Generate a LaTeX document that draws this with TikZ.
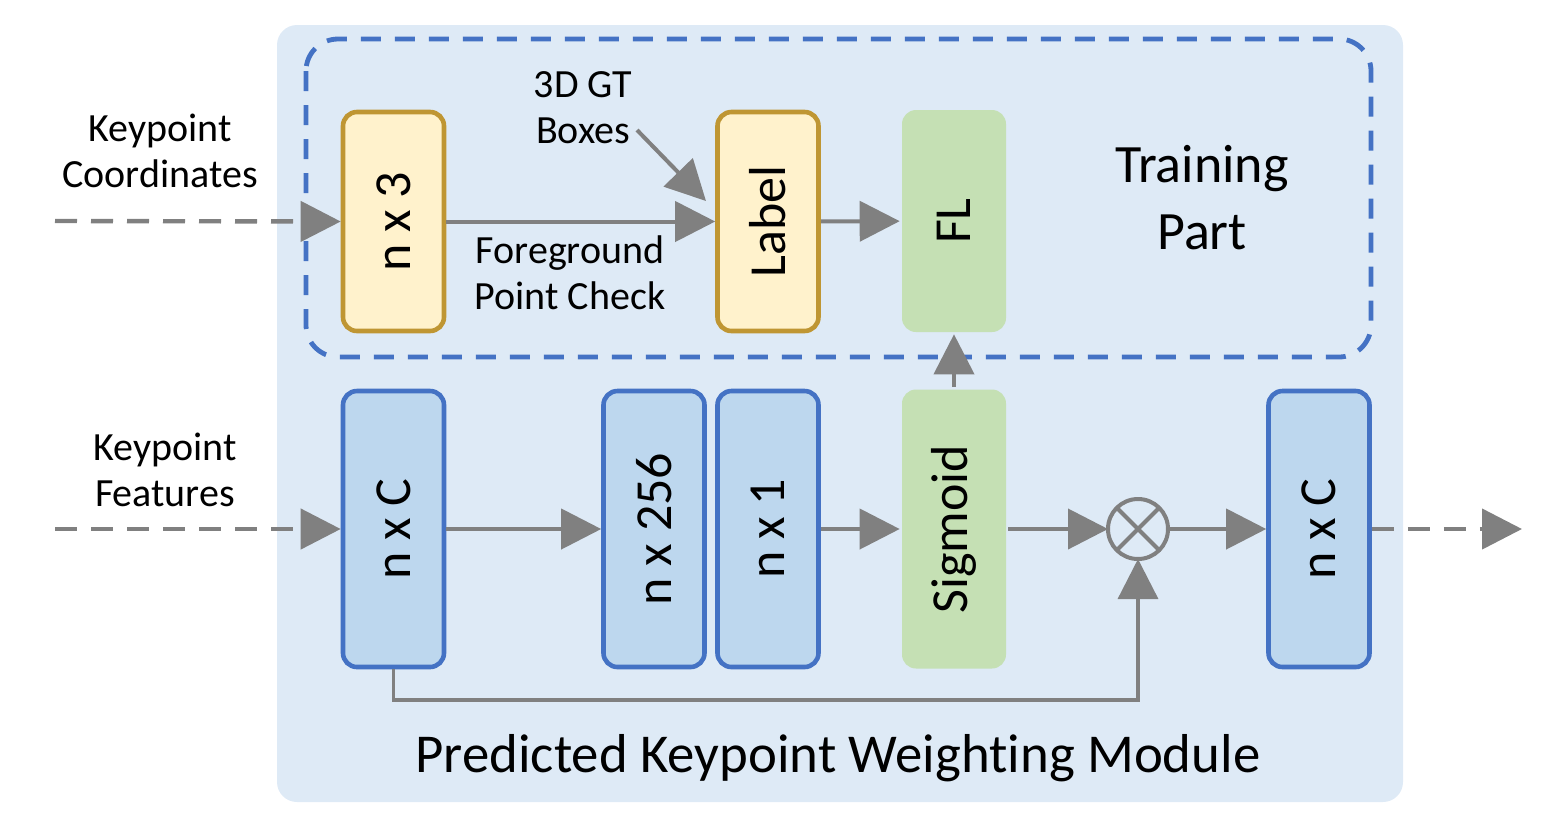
\documentclass[tikz,border=0pt]{standalone}
\usepackage{fontspec}
\setmainfont[RawFeature={-liga}]{Carlito}
\usetikzlibrary{arrows.meta}
\definecolor{bg}{HTML}{DEEAF6}
\definecolor{dashblue}{HTML}{4472C4}
\definecolor{bdraw}{HTML}{4472C4}
\definecolor{bfill}{HTML}{BDD7EE}
\definecolor{ydraw}{HTML}{BF9633}
\definecolor{yfill}{HTML}{FFF2CC}
\definecolor{gfill}{HTML}{C5E0B4}
\definecolor{arrgray}{HTML}{808080}
\tikzset{
 box/.style={rounded corners=7pt, line width=2.3pt, minimum width=50.5pt, inner sep=0pt, font=\fontsize{26}{30}\selectfont},
 ybox/.style={box, draw=ydraw, fill=yfill, minimum height=109.5pt},
 bbox/.style={box, draw=bdraw, fill=bfill, minimum height=138pt},
 gbox/.style={box, fill=gfill, minimum width=52pt},
 arr/.style={draw=arrgray, line width=2pt, -{Triangle[length=20pt,width=20pt]}},
 darr/.style={arr, line width=2.2pt, dash pattern=on 11pt off 7pt},
 lbl/.style={font=\fontsize{20}{23}\selectfont, align=center, inner sep=0pt},
 big/.style={font=\fontsize{27}{33.5}\selectfont, align=center, inner sep=0pt}
}
\begin{document}
\begin{tikzpicture}[x=0.5pt,y=-0.5pt]
\useasboundingbox (0,0) rectangle (1548,832);
\fill[bg, rounded corners=10pt] (277,25) rectangle (1403,802);
\draw[dashblue, line width=2.4pt, dash pattern=on 10pt off 7pt, rounded corners=16pt] (306,39) rectangle (1371,357);

% top row
\node[ybox] (n3) at (393.5,221.5) {\rotatebox{90}{n x 3}};
\node[ybox] (lab) at (768,221.5) {\rotatebox{90}{Label}};
\node[gbox, minimum height=111pt] (fl) at (954,221) {\rotatebox{90}{FL}};
\node[big] (train) at (1202,198) {Training\\Part};
\node[lbl] (gt) at (583,108) {3D GT\\Boxes};
\node[lbl] (fg) at (570,273) {Foreground\\Point Check};
\node[lbl] (kc) at (160,151) {Keypoint\\Coordinates};

% bottom row
\node[bbox] (nC) at (393.5,529) {\rotatebox{90}{n x C}};
\node[bbox] (n256) at (654,529) {\rotatebox{90}{n x 256}};
\node[bbox] (n1) at (768,529) {\rotatebox{90}{n x 1}};
\node[gbox, minimum height=139.5pt] (sig) at (954,529) {\rotatebox{90}{Sigmoid}};
\node[draw=arrgray, line width=2pt, circle, minimum size=30pt, inner sep=0pt, outer sep=0pt] (mul) at (1138,529) {};
\draw[arrgray, line width=2pt] (mul.45) -- (mul.225) (mul.135) -- (mul.315);
\node[bbox] (nC2) at (1319,529) {\rotatebox{90}{n x C}};
\node[lbl] (kf) at (165,470) {Keypoint\\Features};
\node[big, font=\fontsize{27.4}{33.5}\selectfont] (pkwm) at (838,758) {Predicted Keypoint Weight\kern0pt ing Module};

\coordinate (kcin) at (55,221);
\coordinate (kfin) at (55,529);
\coordinate (kout) at (1522,529);
\coordinate (gts) at (637,130);
\coordinate (gte) at (706,201);

\draw[darr] (kcin) -- (n3.west);
\draw[arr] (n3) -- (lab);
\draw[arr] (lab) -- (fl);
\draw[arr] (gts) -- (gte);

\draw[darr] (kfin) -- (nC.west);
\draw[arr] (nC) -- (n256);
\draw[arr] (n1) -- (sig);
\draw[arr] (sig) -- (mul);
\draw[arr] (mul) -- (nC2);
\draw[darr] (nC2.east) -- (kout);
\draw[arr] (sig) -- (fl);
\draw[arr, line width=1.7pt] (nC.south) -- (nC.south |- 0,700) -| (mul.south);
\end{tikzpicture}
\end{document}
